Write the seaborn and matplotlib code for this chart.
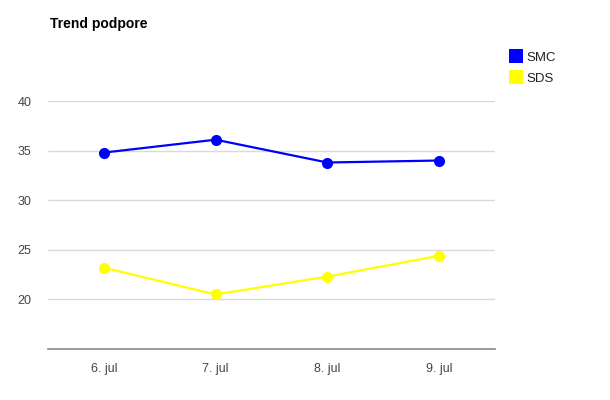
import pandas as pd
import seaborn as sns
import matplotlib.pyplot as plt
from matplotlib.lines import Line2D

# Data
DAYS = ['6. jul', '7. jul', '8. jul', '9. jul']
SMC = [34.8, 36.1, 33.8, 34.0]
SDS = [23.2, 20.5, 22.3, 24.4]
SERIES = ['SMC', 'SDS']
COLORS = {'SMC': '#0000ff', 'SDS': '#ffff00'}

df = pd.DataFrame({
    'day': DAYS * 2,
    'value': SMC + SDS,
    'party': ['SMC'] * len(DAYS) + ['SDS'] * len(DAYS),
})
df['x'] = df['day'].map({d: i for i, d in enumerate(DAYS)})

sns.set_style('white')
plt.rcParams['font.family'] = ['Liberation Sans', 'DejaVu Sans']

fig = plt.figure(figsize=(6.1, 4.0), dpi=100)
ax = fig.add_axes([48 / 610, 1 - 349 / 400, (495 - 48) / 610, (349 - 101) / 400])

sns.lineplot(data=df, x='x', y='value', hue='party', palette=COLORS,
             hue_order=SERIES, marker='o', markersize=8, markeredgewidth=0,
             linewidth=1.6, legend=False, ax=ax)

ax.set_xlim(-0.5, len(DAYS) - 0.5)
ax.set_ylim(15, 40)
ax.set_xticks(range(len(DAYS)))
ax.set_xticklabels(DAYS)
ax.set_yticks([20, 25, 30, 35, 40])
ax.grid(axis='y', color='#d9d9d9', linewidth=1)
ax.set_axisbelow(True)
for s in ['top', 'right', 'left']:
    ax.spines[s].set_visible(False)
ax.spines['bottom'].set_color('#888888')
ax.spines['bottom'].set_linewidth(1.2)
ax.tick_params(axis='both', length=0, labelsize=9, colors='#444444', pad=10)
ax.tick_params(axis='y', pad=12)
ax.set_xlabel('')
ax.set_ylabel('')

fig.text(50 / 610, 1 - 24 / 400, 'Trend podpore', fontsize=10, fontweight='bold',
         va='center', ha='left', color='#000000')

handles = [Line2D([], [], linestyle='none', marker='s', markersize=10,
                  markerfacecolor=COLORS[s], markeredgewidth=0) for s in SERIES]
fig.legend(handles, SERIES, loc='upper left', bbox_to_anchor=(505 / 610, 1 - 46 / 400),
           frameon=False, fontsize=9.5, handlelength=0.8, handletextpad=0.4,
           labelspacing=0.7, borderaxespad=0, labelcolor='#222222')

fig.savefig('out.png', dpi=100)
